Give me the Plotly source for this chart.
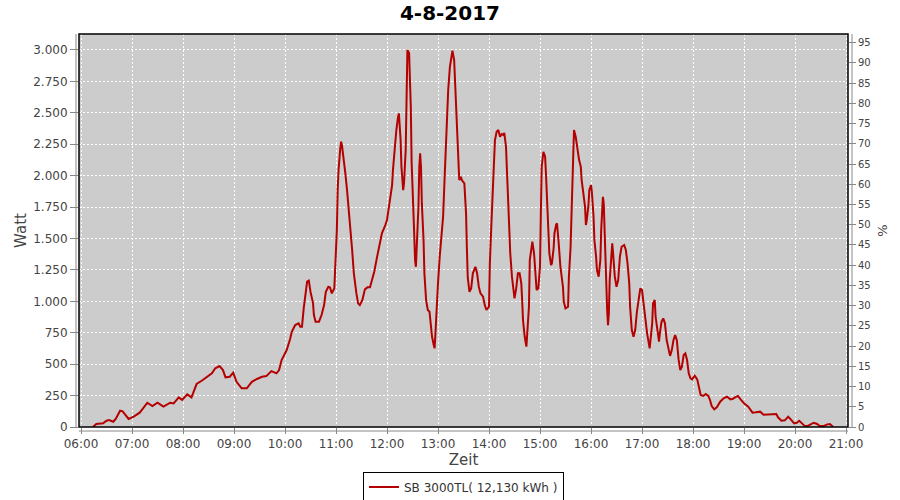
import plotly.graph_objects as go

# ---- data ----
times = [
    "06:14","06:18","06:26","06:30","06:33","06:38","06:41","06:46","06:49","06:56",
    "07:02","07:09","07:13","07:18","07:24","07:30","07:37","07:41","07:45","07:49",
    "07:55","07:59","08:05","08:10","08:16","08:22","08:28","08:34","08:38","08:43",
    "08:47","08:50","08:55","08:59","09:03","09:09","09:15","09:21","09:27","09:33",
    "09:38","09:44","09:50","09:53","09:56","10:02","10:06","10:08","10:12","10:16",
    "10:18","10:20","10:22","10:24","10:26","10:28","10:30","10:33","10:34","10:36",
    "10:40","10:43","10:46","10:48","10:51","10:53","10:55","10:58","10:59","11:01",
    "11:02","11:03","11:05","11:06","11:07","11:09","11:11","11:13","11:15","11:17",
    "11:19","11:21","11:24","11:26","11:28","11:31","11:34","11:37","11:40","11:42",
    "11:45","11:48","11:50","11:54","11:58","12:00","12:02","12:04","12:06","12:07",
    "12:09","12:11","12:13","12:14","12:16","12:17","12:19","12:20","12:22","12:23",
    "12:24","12:26","12:27","12:28","12:29","12:31","12:32","12:33","12:34","12:35",
    "12:37","12:38","12:39","12:40","12:41","12:43","12:44","12:46","12:48","12:50",
    "12:51","12:53","12:55","12:56","12:57","12:58","13:00","13:02","13:04","13:06",
    "13:08","13:10","13:12","13:14","13:16","13:17","13:19","13:20","13:22","13:24",
    "13:25","13:27","13:28","13:31","13:33","13:34","13:35","13:37","13:39","13:41",
    "13:44","13:46","13:48","13:50","13:53","13:55","13:57","14:00","14:01","14:03",
    "14:05","14:07","14:09","14:11","14:13","14:15","14:17","14:18","14:20","14:22",
    "14:23","14:25","14:27","14:29","14:30","14:32","14:34","14:36","14:38","14:39",
    "14:40","14:42","14:44","14:45","14:47","14:48","14:50","14:51","14:53","14:55",
    "14:56","14:58","15:00","15:01","15:02","15:04","15:06","15:07","15:09","15:10",
    "15:11","15:13","15:14","15:16","15:17","15:19","15:20","15:22","15:24","15:27",
    "15:28","15:30","15:33","15:34","15:36","15:37","15:38","15:39","15:40","15:42",
    "15:43","15:45","15:46","15:48","15:49","15:51","15:53","15:54","15:55","15:57",
    "15:58","16:00","16:01","16:03","16:04","16:06","16:07","16:09","16:11","16:12",
    "16:13","16:14","16:15","16:16","16:18","16:19","16:20","16:21","16:22","16:24",
    "16:25","16:26","16:28","16:30","16:32","16:34","16:36","16:39","16:41","16:43",
    "16:45","16:46","16:48","16:50","16:52","16:54","16:56","16:58","17:00","17:02",
    "17:04","17:06","17:08","17:09","17:10","17:12","17:13","17:15","17:16","17:18",
    "17:20","17:21","17:23","17:25","17:27","17:29","17:31","17:33","17:35","17:37",
    "17:39","17:41","17:43","17:45","17:47","17:49","17:51","17:53","17:55","17:57",
    "17:59","18:02","18:05","18:07","18:09","18:12","18:15","18:18","18:20","18:22",
    "18:25","18:28","18:32","18:36","18:40","18:44","18:47","18:51","18:53","18:56",
    "19:00","19:05","19:08","19:10","19:14","19:19","19:23","19:31","19:38","19:40",
    "19:44","19:48","19:52","19:55","19:59","20:02","20:05","20:07","20:11","20:15",
    "20:19","20:22","20:26","20:29","20:34","20:38","20:41","20:43","20:45",
]
watt = [
    0,24,29,50,56,42,66,130,125,64,
    82,114,149,193,167,193,162,175,193,188,
    236,215,260,236,342,368,395,427,467,485,
    453,395,400,432,360,308,308,360,382,400,
    405,445,427,453,533,612,700,758,811,825,
    798,798,944,1076,1156,1164,1076,984,891,838,
    838,891,970,1076,1116,1110,1063,1103,1223,1567,
    1885,2044,2217,2270,2243,2150,2018,1885,1752,1567,
    1408,1223,1063,984,970,1010,1095,1111,1111,1156,
    1236,1342,1408,1541,1607,1647,1740,1832,1925,2044,
    2230,2363,2468,2495,2283,2071,1885,1938,2204,2681,
    2999,2975,2814,2548,2098,1806,1541,1328,1275,1434,
    1752,2071,2177,2071,1779,1488,1223,1010,931,917,
    825,718,652,626,745,931,1143,1355,1514,1673,
    2018,2416,2681,2866,2986,2994,2920,2734,2416,2071,
    1965,1991,1965,1938,1700,1420,1190,1076,1103,1223,
    1275,1223,1116,1063,1037,970,931,957,1302,1647,
    1991,2283,2349,2363,2309,2331,2323,2341,2230,1912,
    1647,1382,1196,1037,1024,1103,1223,1223,1143,1010,
    851,718,639,745,957,1328,1461,1474,1382,1196,
    1090,1103,1275,1700,2071,2190,2150,2018,1673,1514,
    1382,1289,1302,1420,1541,1610,1620,1461,1275,1116,
    997,944,957,1196,1434,1673,1912,2177,2363,2309,
    2257,2190,2124,2071,1965,1859,1752,1607,1647,1766,
    1885,1925,1872,1673,1488,1355,1249,1196,1328,1567,
    1752,1832,1779,1514,1169,931,811,904,1169,1382,
    1461,1382,1196,1116,1169,1355,1434,1448,1408,1302,
    1143,957,772,718,772,917,1010,1103,1090,957,
    851,745,665,626,692,825,984,1010,877,772,
    679,745,838,864,825,692,612,566,610,690,
    731,690,540,453,480,573,586,533,427,387,
    379,408,379,321,255,247,262,247,215,167,
    141,157,201,228,241,220,225,241,247,220,
    189,162,135,114,117,122,98,98,103,77,
    50,53,82,61,29,34,50,37,11,8,
    24,34,24,8,8,21,24,11,0,
]
day = "2017-08-04"
title_text = "4-8-2017"
series_name = "SB 3000TL( 12,130 kWh )"

watt_ticks = [0, 250, 500, 750, 1000, 1250, 1500, 1750, 2000, 2250, 2500, 2750, 3000]
watt_ticklabels = ["0", "250", "500", "750", "1.000", "1.250", "1.500", "1.750",
                   "2.000", "2.250", "2.500", "2.750", "3.000"]
pct_ticks = list(range(0, 100, 5))

x = [f"{day} {t}" for t in times]

fig = go.Figure()
fig.add_trace(go.Scatter(
    x=x, y=watt, mode="lines", name=series_name,
    line=dict(color="#b40000", width=2),
))
# empty trace to carry the right-hand % axis
fig.add_trace(go.Scatter(
    x=[x[0]], y=[None], yaxis="y2", mode="lines", showlegend=False,
    hoverinfo="skip",
))

tick_font = dict(family="DejaVu Sans", size=12, color="#444444")
grid = dict(showgrid=True, gridcolor="white", gridwidth=1, griddash="2px,2px")

fig.update_layout(
    width=900, height=500,
    margin=dict(l=79, r=52, t=34, b=73, autoexpand=False),
    paper_bgcolor="white",
    plot_bgcolor="#cccccc",
    font=dict(family="DejaVu Sans", color="#444444"),
    title=dict(text=title_text, x=0.5, xanchor="center", y=1 - 13 / 500,
               yanchor="middle", yref="container",
               font=dict(family="DejaVu Sans", size=20, color="#000000",
                         weight="bold")),
    xaxis=dict(
        type="date", automargin=False,
        range=[f"{day} 05:57:39", f"{day} 21:02:21"],
        tickformat="%H:%M", dtick=3600000, tick0=f"{day} 06:00",
        ticks="outside", ticklen=6, tickcolor="#888888",
        tickfont=tick_font, showline=False, zeroline=False,
        title=dict(text="Zeit", font=dict(family="DejaVu Sans", size=15,
                                          color="#444444"), standoff=4),
        **grid,
    ),
    yaxis=dict(
        range=[0, 3127], automargin=False,
        tickvals=watt_ticks, ticktext=watt_ticklabels,
        ticks="outside", ticklen=8, tickcolor="#888888",
        tickfont=tick_font, showline=False, zeroline=False,
        title=dict(text="Watt", font=dict(family="DejaVu Sans", size=15,
                                          color="#444444"), standoff=2),
        **grid,
    ),
    yaxis2=dict(
        overlaying="y", side="right", range=[0, 97.15], automargin=False,
        tickvals=pct_ticks, ticks="outside", ticklen=7, tickcolor="#888888",
        tickfont=dict(family="DejaVu Sans", size=10, color="#444444"),
        showgrid=False, zeroline=False, showline=False,
        title=dict(text="%", font=dict(family="DejaVu Sans", size=13,
                                       color="#444444"), standoff=8),
    ),
    showlegend=True,
    legend=dict(
        orientation="h", x=0.5, xanchor="center", y=-0.1527, yanchor="middle",
        bordercolor="#000000", borderwidth=1, bgcolor="white",
        font=dict(family="DejaVu Sans", size=12, color="#333333"),
        itemwidth=30,
    ),
    shapes=[
        dict(type="rect", xref="paper", yref="paper", x0=0, x1=1, y0=0, y1=1,
             line=dict(color="black", width=1.5), layer="above"),
        dict(type="line", xref="paper", yref="paper", x0=-3 / 769, x1=-3 / 769,
             y0=0, y1=1, line=dict(color="#888888", width=1)),
        dict(type="line", xref="paper", yref="paper", x0=1 + 4 / 769, x1=1 + 4 / 769,
             y0=0, y1=1, line=dict(color="#888888", width=1)),
        dict(type="line", xref="paper", yref="paper", x0=0, x1=1,
             y0=-4 / 393, y1=-4 / 393, line=dict(color="#888888", width=1)),
    ],
)

fig.write_html("out.html",
               config={"displayModeBar": False},
               post_script="document.body.style.margin='0';"
                           "document.body.style.overflow='hidden';")
